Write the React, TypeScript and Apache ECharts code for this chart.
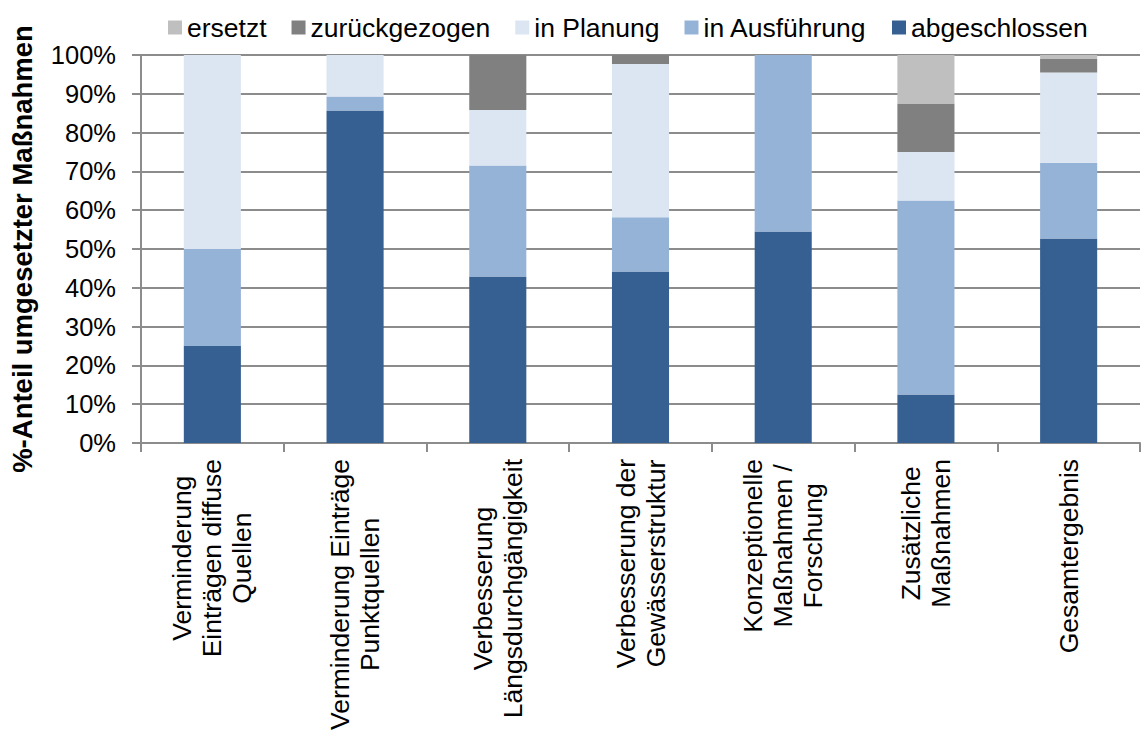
import React, { useEffect, useRef } from "react";
import * as echarts from "echarts";

const categories = [
  "Verminderung\nEinträgen diffuse\nQuellen",
  "Verminderung Einträge\nPunktquellen",
  "Verbesserung\nLängsdurchgängigkeit",
  "Verbesserung der\nGewässerstruktur",
  "Konzeptionelle\nMaßnahmen /\nForschung",
  "Zusätzliche\nMaßnahmen",
  "Gesamtergebnis",
];

const abgeschlossen = [25, 85.7, 42.9, 44.2, 54.5, 12.5, 52.7];
const inAusfuehrung = [25, 3.6, 28.6, 14.0, 45.5, 50.0, 19.5];
const inPlanung = [50, 10.7, 14.3, 39.5, 0, 12.5, 23.3];
const zurueckgezogen = [0, 0, 14.2, 2.3, 0, 12.5, 3.6];
const ersetzt = [0, 0, 0, 0, 0, 12.5, 0.9];

const legendOrder = ["ersetzt", "zurückgezogen", "in Planung", "in Ausführung", "abgeschlossen"];
const yAxisTitle = "%-Anteil umgesetzter Maßnahmen";

const FONT = "'Liberation Sans', Arial, sans-serif";
const GRID_COLOR = "#8c8c8c";

export default function App() {
  const ref = useRef<HTMLDivElement>(null);

  useEffect(() => {
    document.body.style.margin = "0";
    if (!ref.current) return;
    const chart = echarts.init(ref.current, undefined, { renderer: "svg" });

    const seriesDefs = [
      { name: "abgeschlossen", data: abgeschlossen, color: "#376092" },
      { name: "in Ausführung", data: inAusfuehrung, color: "#95B3D7" },
      { name: "in Planung", data: inPlanung, color: "#DCE6F2" },
      { name: "zurückgezogen", data: zurueckgezogen, color: "#808080" },
      { name: "ersetzt", data: ersetzt, color: "#BFBFBF" },
    ];

    chart.setOption({
      animation: false,
      textStyle: { fontFamily: FONT },
      legend: {
        data: legendOrder,
        left: 163,
        top: 9,
        itemWidth: 14,
        itemHeight: 14,
        itemGap: 25,
        icon: "rect",
        textStyle: { fontFamily: FONT, fontSize: 26.5, color: "#000" },
      },
      grid: { left: 137, right: 1, top: 55, bottom: 290, containLabel: false },
      xAxis: {
        type: "category",
        data: categories,
        axisLine: { show: true, lineStyle: { color: GRID_COLOR, width: 2 } },
        axisTick: { show: true, length: 9, lineStyle: { color: GRID_COLOR, width: 2 } },
        axisLabel: {
          interval: 0,
          rotate: 90,
          margin: 16,
          color: "#000",
          formatter: (v: string) =>
            v
              .split("\n")
              .map((l) => `{c|${l}}`)
              .join("\n"),
          rich: {
            c: {
              align: "center",
              fontSize: 26.5,
              lineHeight: 30,
              fontFamily: FONT,
              color: "#000",
            },
          },
        },
      },
      yAxis: {
        type: "value",
        min: 0,
        max: 100,
        interval: 10,
        name: yAxisTitle,
        nameLocation: "middle",
        nameRotate: 90,
        nameGap: 105,
        nameTextStyle: { fontFamily: FONT, fontSize: 27.5, fontWeight: "bold", color: "#000" },
        axisLine: { show: true, lineStyle: { color: GRID_COLOR, width: 2 } },
        axisTick: { show: true, length: 9, lineStyle: { color: GRID_COLOR, width: 2 } },
        axisLabel: {
          formatter: "{value}%",
          margin: 25,
          fontSize: 25.5,
          fontFamily: FONT,
          color: "#000",
        },
        splitLine: { show: true, lineStyle: { color: GRID_COLOR, width: 2 } },
      },
      series: seriesDefs.map((s) => ({
        type: "bar",
        name: s.name,
        stack: "total",
        data: s.data,
        barWidth: "40%",
        itemStyle: { color: s.color },
      })),
    });

    return () => chart.dispose();
  }, []);

  return <div ref={ref} style={{ width: 1141, height: 733 }} />;
}
